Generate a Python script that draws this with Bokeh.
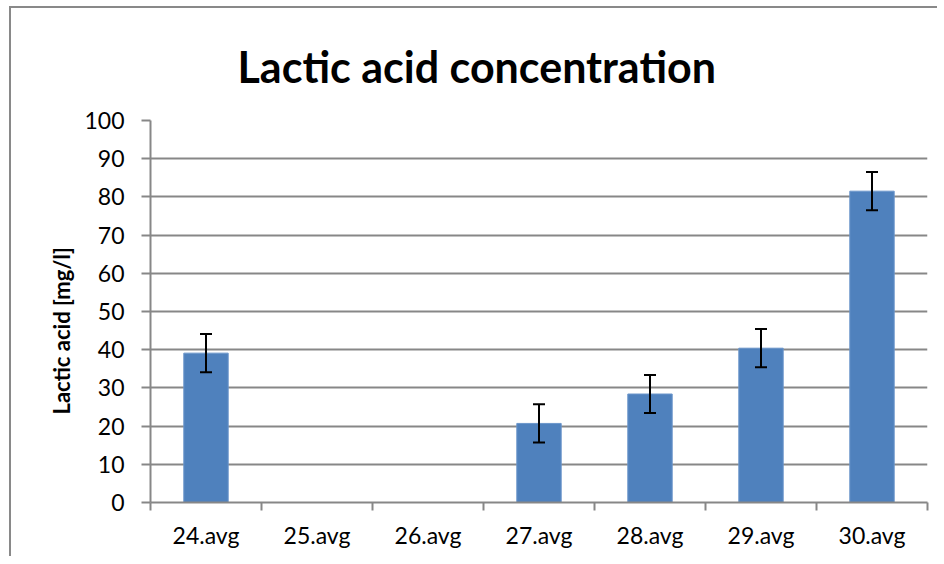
import numpy as np
from bokeh.plotting import figure
from bokeh.models import ColumnDataSource, FixedTicker, Whisker, TeeHead, Title
from bokeh.embed import file_html
from bokeh.resources import INLINE

categories = ["24.avg", "25.avg", "26.avg", "27.avg", "28.avg", "29.avg", "30.avg"]
lactic = [39.1, None, None, 20.7, 28.4, 40.4, 81.5]
errors = [5.0, None, None, 5.0, 5.0, 5.0, 5.0]
y_ticks = [0, 10, 20, 30, 40, 50, 60, 70, 80, 90, 100]

pos = [i + 0.5 for i in range(len(categories))]
xs, tops, lows, ups = [], [], [], []
for x, v, e in zip(pos, lactic, errors):
    if v is not None:
        xs.append(x)
        tops.append(v)
        lows.append(v - e)
        ups.append(v + e)
src = ColumnDataSource(dict(x=xs, top=tops, lower=lows, upper=ups))

GRAY = "#878787"
FONT = "Lato"

p = figure(frame_width=777, frame_height=382,
           min_border_left=139, min_border_right=10,
           min_border_top=112, min_border_bottom=54,
           x_range=(0, len(categories)), y_range=(0, 100),
           output_backend="svg", toolbar_location=None,
           title="Lactic acid concentration")
p.styles = {"border-left": "2px solid #898989", "border-top": "2px solid #898989",
            "margin-left": "9px", "margin-top": "6px"}

p.title.text_font = FONT
p.title.text_font_size = "43px"
p.title.text_font_style = "bold"
p.title.align = "left"
p.title.offset = 87
p.title.standoff = 58
p.title.text_color = "#000000"

p.outline_line_color = None
p.background_fill_color = "white"
p.border_fill_color = "white"

p.vbar(x="x", top="top", width=0.4, bottom=0, source=src,
       fill_color="#4F81BD", line_color="#6C96CB", line_width=1)
w = Whisker(base="x", lower="lower", upper="upper", source=src,
            line_color="black", line_width=2, level="overlay",
            upper_head=TeeHead(size=12, line_width=2, line_color="black"),
            lower_head=TeeHead(size=12, line_width=2, line_color="black"))
p.add_layout(w)

# x axis
p.xaxis.ticker = FixedTicker(ticks=pos, minor_ticks=list(range(len(categories) + 1)))
p.xaxis.major_label_overrides = {x: c for x, c in zip(pos, categories)}
p.xaxis.major_tick_line_color = None
p.xaxis.minor_tick_line_color = GRAY
p.xaxis.minor_tick_line_width = 2
p.xaxis.minor_tick_out = 8
p.xaxis.minor_tick_in = 0
p.xaxis.axis_line_color = GRAY
p.xaxis.axis_line_width = 2
p.xaxis.major_label_text_font = FONT
p.xaxis.major_label_text_font_size = "23px"
p.xaxis.major_label_text_color = "#000000"
p.xaxis.major_label_standoff = 10

# y axis
p.yaxis.ticker = FixedTicker(ticks=y_ticks)
p.yaxis.minor_tick_line_color = None
p.yaxis.major_tick_line_color = GRAY
p.yaxis.major_tick_line_width = 2
p.yaxis.major_tick_out = 9
p.yaxis.major_tick_in = 0
p.yaxis.axis_line_color = GRAY
p.yaxis.axis_line_width = 2
p.yaxis.major_label_text_font = FONT
p.yaxis.major_label_text_font_size = "23px"
p.yaxis.major_label_text_color = "#000000"
p.yaxis.major_label_standoff = 17

ylab = Title(text="Lactic acid [mg/l]", align="left", offset=88,
             text_font=FONT, text_font_size="22px", text_font_style="bold",
             text_color="#000000", standoff=14)
p.add_layout(ylab, "left")

p.xgrid.grid_line_color = None
p.ygrid.grid_line_color = GRAY
p.ygrid.grid_line_width = 2

open("out.html", "w").write(file_html(p, INLINE))
